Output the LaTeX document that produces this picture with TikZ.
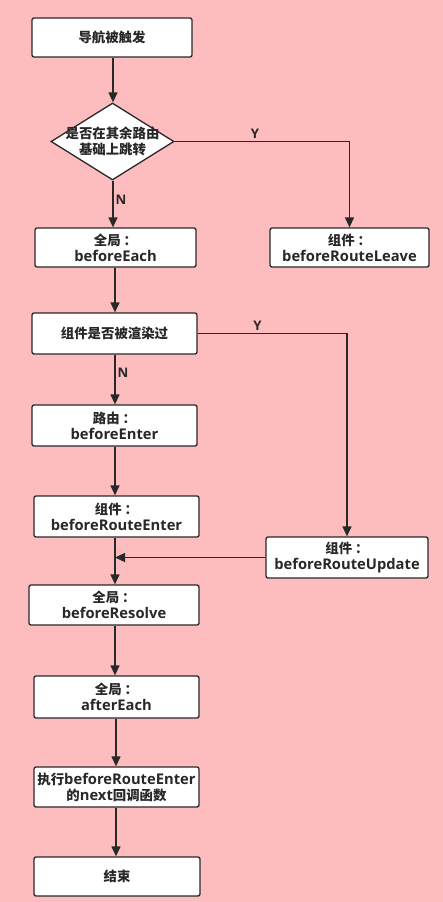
\documentclass[tikz,border=0pt]{standalone}
\usepackage{fontspec}
\setmainfont{Open Sans}[Scale=1.1]
\newfontfamily\cjk{Noto Sans CJK SC}
\usetikzlibrary{shapes.geometric,arrows.meta}
\definecolor{bgpink}{RGB}{253,188,190}
\definecolor{ink}{RGB}{40,40,40}
\newcommand{\fcolon}{\kern3pt：}
\tikzset{
  box/.style={draw=ink, fill=white, rounded corners=2pt, line width=1.3pt, align=center,
    inner sep=0pt, text=ink, font=\fontsize{13.4}{16}\selectfont\bfseries},
  decision/.style={box, diamond, rounded corners=0pt, inner sep=-12pt},
  yn/.style={text=ink, font=\fontsize{12}{14}\selectfont\bfseries}
}
\begin{document}
\begin{tikzpicture}[x=1pt, y=-1pt, >={Triangle[length=10pt,width=9pt]}, line width=1.3pt, draw=ink]
\fill[bgpink] (0,0) rectangle (443,902);
\useasboundingbox (0,0) rectangle (443,902);

\node[box, minimum width=160pt, minimum height=39pt] (start) at (112,37.5){\cjk 导航被触发};
\node[decision, minimum width=123pt, minimum height=77pt] (reroute) at (112.5,141.5){\cjk 是否在其余路由\\\cjk 基础上跳转};
\node[box, minimum width=161pt, minimum height=39pt] (each) at (115.5,247.5){\cjk 全局\fcolon\\beforeEach};
\node[box, minimum width=159pt, minimum height=39pt] (leave) at (349.5,247.5){\cjk 组件\fcolon\\beforeRouteLeave};
\node[box, minimum width=165pt, minimum height=41pt] (rendered) at (114.5,333.5){\cjk 组件是否被渲染过};
\node[box, minimum width=165pt, minimum height=41pt] (enter) at (114.5,425.5){\cjk 路由\fcolon\\beforeEnter};
\node[box, minimum width=165pt, minimum height=41pt] (rtenter) at (116.5,516.5){\cjk 组件\fcolon\\beforeRouteEnter};
\node[box, minimum width=162pt, minimum height=41pt] (update) at (347,557.5){\cjk 组件\fcolon\\beforeRouteUpdate};
\node[box, minimum width=170pt, minimum height=40pt] (resolve) at (114,605){\cjk 全局\fcolon\\beforeResolve};
\node[box, minimum width=165pt, minimum height=42pt] (after) at (116.5,697){\cjk 全局\fcolon\\afterEach};
\node[box, minimum width=165pt, minimum height=40pt] (next) at (116.5,787){{\cjk 执行}beforeRouteEnter\\{\cjk 的}next{\cjk 回调函数}};
\node[box, minimum width=166pt, minimum height=39pt] (finish) at (117,876.5){\cjk 结束};

\coordinate (merge) at (115,557.5);

\draw[->] (start.south -| 113,0) -- (reroute.north -| 113,0);
\draw[->] (reroute.south -| 113,0) -- (each.north -| 113,0) node[pos=0.4,right,yn,inner sep=2pt]{N};
\draw[->] (reroute.east) -| (leave.north) node[pos=0.23,above,yn,inner sep=2pt]{Y};
\draw[->] (each.south -| 115,0) -- (rendered.north -| 115,0);
\draw[->] (rendered.south -| 115,0) -- (enter.north -| 115,0) node[pos=0.37,right,yn,inner sep=2pt]{N};
\draw[->] (rendered.east) -| (update.north) node[pos=0.2,above,yn,inner sep=2pt]{Y};
\draw[->] (enter.south -| 115,0) -- (rtenter.north -| 115,0);
\draw[->] (update.west) -- (merge);
\draw[->] (rtenter.south -| 115,0) -- (resolve.north -| 115,0);
\draw[->] (resolve.south -| 115,0) -- (after.north -| 115,0);
\draw[->] (after.south -| 116,0) -- (next.north -| 116,0);
\draw[->] (next.south -| 116,0) -- (finish.north -| 116,0);
\end{tikzpicture}
\end{document}
